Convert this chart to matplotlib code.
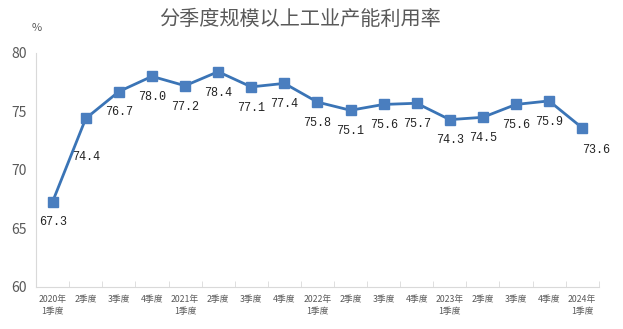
import matplotlib.pyplot as plt
import numpy as np

plt.rcParams['font.family'] = ['Noto Sans CJK SC', 'DejaVu Sans']

quarters = ['2020年\n1季度', '2季度', '3季度', '4季度',
            '2021年\n1季度', '2季度', '3季度', '4季度',
            '2022年\n1季度', '2季度', '3季度', '4季度',
            '2023年\n1季度', '2季度', '3季度', '4季度',
            '2024年\n1季度']
rate = [67.3, 74.4, 76.7, 78.0, 77.2, 78.4, 77.1, 77.4,
        75.8, 75.1, 75.6, 75.7, 74.3, 74.5, 75.6, 75.9, 73.6]
yticks = [60, 65, 70, 75, 80]

fig = plt.figure(figsize=(6.23, 3.29), dpi=100)
ax = fig.add_axes([0.058, 0.128, 0.903, 0.711])

x = np.arange(len(rate))
ax.plot(x, rate, color='#3a74b6', lw=2, marker='s', ms=6.5,
        markerfacecolor='#4a7ebf', markeredgecolor='#4a7ebf')

# label offsets in points (dx, dy)
offs = {1: (0, -28), 16: (10, -16)}
for i, v in enumerate(rate):
    dx, dy = offs.get(i, (0, -15))
    ax.annotate(f'{v:.1f}', (i, v), xytext=(dx, dy), textcoords='offset points',
                ha='center', va='center', fontsize=8.5,
                family='Liberation Mono', color='#222222')

ax.set_xlim(-0.5, len(rate) - 0.5)
ax.set_ylim(60, 80)
ax.set_yticks(yticks)
ax.tick_params(axis='y', length=0, labelsize=10, labelcolor='#595959', pad=7)
ax.set_xticks(x)
ax.set_xticklabels(quarters, fontsize=6.3, color='#595959', linespacing=1.45)
ax.tick_params(axis='x', length=0, pad=6)
ax.set_xticks(np.arange(-0.5, len(rate)), minor=True)
ax.tick_params(axis='x', which='minor', length=4, direction='in', color='#d9d9d9')

for s in ['top', 'right']:
    ax.spines[s].set_visible(False)
ax.spines['left'].set_color('#d9d9d9')
ax.spines['bottom'].set_color('#d9d9d9')

fig.text(0.482, 0.94, '分季度规模以上工业产能利用率', ha='center', va='center',
         fontsize=14.5, color='#595959')
fig.text(0.05, 0.915, '%', ha='left', va='center', fontsize=8, color='#595959')

fig.savefig('out.png', dpi=100)
